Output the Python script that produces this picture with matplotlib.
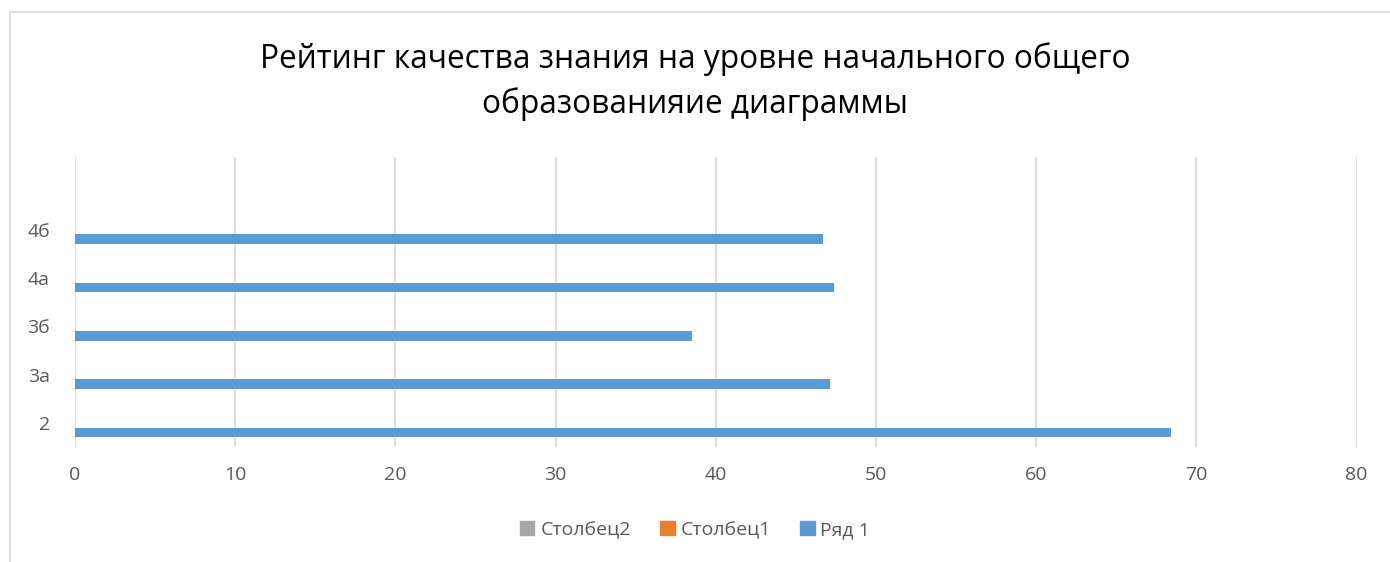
import numpy as np
import matplotlib.pyplot as plt
from matplotlib.patches import Patch, Rectangle

plt.rcParams["font.family"] = ["Open Sans", "DejaVu Sans"]

categories = ["2", "3а", "3б", "4а", "4б", ""]
ryad1 = [68.4, 47.1, 38.5, 47.4, 46.7, np.nan]
stolbec1 = [np.nan] * 6
stolbec2 = [np.nan] * 6
x_ticks = [0, 10, 20, 30, 40, 50, 60, 70, 80]

BLUE = "#5B9BD5"
ORANGE = "#ED7D31"
GRAY = "#A5A5A5"
GRID = "#D9D9D9"
TEXT = "#595959"

fig = plt.figure(figsize=(13.9, 5.62), dpi=100)
ax = fig.add_axes([0.054, 0.2046, 0.922, 0.516])

# рамка области диаграммы как в Excel
fig.patches.append(Rectangle((10 / 1390, -0.1), 1.2, 1 - 12 / 562 + 0.1,
                             transform=fig.transFigure, fill=False,
                             edgecolor=GRID, linewidth=1.2))

y = np.arange(len(categories))
h = 0.2
ax.barh(y - h, ryad1, height=h, color=BLUE)
ax.barh(y, stolbec1, height=h, color=ORANGE)
ax.barh(y + h, stolbec2, height=h, color=GRAY)

ax.set_xlim(0, 80)
ax.set_ylim(-0.5, len(categories) - 0.5)
ax.set_xticks(x_ticks)
ax.set_yticks(y)
ax.set_yticklabels(categories)
ax.tick_params(axis="both", length=0, labelsize=14, labelcolor=TEXT)
ax.tick_params(axis="x", pad=14)
ax.tick_params(axis="y", pad=18)

ax.grid(axis="x", color=GRID, linewidth=1.2)
ax.set_axisbelow(True)
for s in ax.spines.values():
    s.set_visible(False)

fig.text(0.5, 0.855, "Рейтинг качества знания на уровне начального общего\nобразованияие диаграммы",
         ha="center", va="center", fontsize=22.8, color="#000000", linespacing=1.45)

handles = [Patch(color=GRAY, label="Столбец2"),
           Patch(color=ORANGE, label="Столбец1"),
           Patch(color=BLUE, label="Ряд 1")]
fig.legend(handles=handles, loc="center", bbox_to_anchor=(0.5, 0.057), ncol=3,
           frameon=False, fontsize=14, labelcolor=TEXT, handlelength=0.75,
           handleheight=0.75, handletextpad=0.3, columnspacing=1.5)

fig.savefig("out.png", dpi=100)
